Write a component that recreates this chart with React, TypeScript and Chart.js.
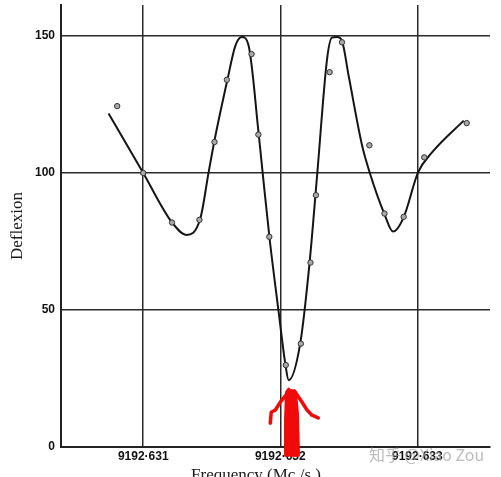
import React, { useEffect, useRef } from 'react';
import { Chart, registerables } from 'chart.js';

Chart.register(...registerables);

// Tick values
const xTickValues = [9192.631, 9192.632, 9192.633];
const yTickValues = [0, 50, 100, 150];

// Measured points (frequency in Mc./s., deflexion)
const pointFreq = [
  9192.63081, 9192.631, 9192.63121, 9192.63141, 9192.63152, 9192.63161, 9192.63179,
  9192.63184, 9192.63192, 9192.63204, 9192.63215, 9192.63222, 9192.63226, 9192.63236,
  9192.63245, 9192.63265, 9192.63276, 9192.6329, 9192.63305, 9192.63336,
];
const pointDefl = [
  124.4, 100, 81.9, 82.9, 111.3, 134, 143.4,
  114, 76.7, 29.9, 37.7, 67.3, 91.9, 136.8,
  147.7, 110.1, 85.2, 84, 105.7, 118.2,
];

// Fitted smooth curve
const curveFreq = [
  9192.630747, 9192.631, 9192.631209, 9192.631314, 9192.631416, 9192.631477, 9192.631518,
  9192.631615, 9192.631672, 9192.63172, 9192.631769, 9192.631842, 9192.631871, 9192.631922,
  9192.631988, 9192.632037, 9192.632061, 9192.632146, 9192.632214, 9192.63227,
  9192.632341, 9192.632377, 9192.632414, 9192.63245, 9192.632499, 9192.632596, 9192.632652,
  9192.632759, 9192.632823, 9192.6329, 9192.633005, 9192.633107, 9192.633338,
];
const curveDefl = [
  121.7, 100, 82.0, 77.4, 83.3, 100.2, 111.4,
  134.2, 146.4, 149.6, 146.4, 114.4, 100.2, 76.0,
  49.3, 30.2, 24.4, 38.0, 67.5, 100.0,
  141.5, 149.4, 149.6, 148.2, 135.4, 110.2, 100.2,
  85.1, 78.6, 83.8, 100.2, 107.5, 119.1,
];

// Hand-drawn red arrow strokes: [offset from 9192.632 Mc./s. in c./s., deflexion]
const arrowStrokes: number[][][] = [
  [[40, -3], [40, 10], [47, 20], [62, 21]],
  [[58, -3], [55, 10], [60, 20.5]],
  [[80, -3], [73, 10], [66, 20.5]],
  [[95, -3], [92, 12], [84, 20.5]],
  [[109, -3], [109, 12], [102, 19.5]],
  [[131, -3], [124, 12], [109, 20]],
  [[66, 20.5], [0, 16.4], [-36, 13.5], [-66, 12.7], [-73, 8.7]],
  [[102, 20.5], [158, 16.4], [195, 13.5], [231, 11.6], [277, 10.6]],
];

const xTitle = 'Frequency (Mc./s.)';
const yTitle = 'Deflexion';
const watermark = '知乎 @Xiao Zou';

export default function App() {
  const ref = useRef<HTMLCanvasElement>(null);

  useEffect(() => {
    document.body.style.margin = '0';
    const canvas = ref.current!;

    const overlay = {
      id: 'overlay',
      afterDraw(chart: any) {
        const ctx = chart.ctx;
        const xs = chart.scales.x;
        const ys = chart.scales.y;
        ctx.save();
        // x axis title
        ctx.fillStyle = '#1a1a1a';
        ctx.font = '17px "Liberation Serif", "DejaVu Serif", serif';
        ctx.textAlign = 'center';
        ctx.textBaseline = 'alphabetic';
        ctx.fillText(xTitle, 256, 480);
        // red arrow
        ctx.strokeStyle = '#f00a0a';
        ctx.lineWidth = 3.5;
        ctx.lineCap = 'round';
        ctx.lineJoin = 'round';
        for (const stroke of arrowStrokes) {
          ctx.beginPath();
          stroke.forEach(([dx, dy], i) => {
            const px = xs.getPixelForValue(9192.632 + dx * 1e-6);
            const py = ys.getPixelForValue(dy);
            if (i === 0) ctx.moveTo(px, py);
            else ctx.lineTo(px, py);
          });
          ctx.stroke();
        }
        // watermark
        ctx.fillStyle = 'rgba(160,160,160,0.7)';
        ctx.font = '16px "Noto Sans CJK SC", "Noto Sans", sans-serif';
        ctx.textAlign = 'left';
        ctx.textBaseline = 'middle';
        ctx.fillText(watermark, 369, 455);
        ctx.restore();
      },
    };

    const tickFont = { family: '"Liberation Sans", Arial, sans-serif', size: 12, weight: 'bold' as const };

    const chart = new Chart(canvas, {
      type: 'scatter',
      data: {
        datasets: [
          {
            type: 'line',
            data: curveFreq.map((x, i) => ({ x, y: curveDefl[i] })),
            borderColor: '#151515',
            borderWidth: 2,
            pointRadius: 0,
            cubicInterpolationMode: 'monotone',
            fill: false,
            order: 2,
          } as any,
          {
            type: 'scatter',
            data: pointFreq.map((x, i) => ({ x, y: pointDefl[i] })),
            pointRadius: 2.7,
            backgroundColor: '#a8a8a8',
            borderColor: '#333',
            borderWidth: 1,
            order: 1,
          },
        ],
      },
      options: {
        responsive: false,
        animation: false,
        layout: { padding: { top: 0, right: 11, left: 0, bottom: 0 } },
        plugins: { legend: { display: false }, tooltip: { enabled: false } },
        scales: {
          x: {
            type: 'linear',
            min: 9192.6304,
            max: 9192.63353,
            afterBuildTicks: (s: any) => {
              s.ticks = xTickValues.map((v) => ({ value: v }));
            },
            afterFit: (s: any) => {
              s.height = 30;
              s.paddingLeft = 0;
              s.paddingRight = 0;
            },
            grid: { color: '#2a2a2a', lineWidth: 1.5, drawTicks: false },
            border: { display: true, color: '#222', width: 2 },
            ticks: {
              padding: 2,
              font: tickFont,
              color: '#111',
              maxRotation: 0,
              autoSkip: false,
              callback: (v: any) => Number(v).toFixed(3).replace('.', '·'),
            },
          },
          y: {
            type: 'linear',
            min: 0,
            max: 161.3,
            afterBuildTicks: (s: any) => {
              s.ticks = yTickValues.map((v) => ({ value: v }));
            },
            afterFit: (s: any) => {
              s.width = 61;
              s.paddingTop = 0;
              s.paddingBottom = 0;
            },
            grid: { color: '#2a2a2a', lineWidth: 1.5, drawTicks: false },
            border: { display: true, color: '#222', width: 2 },
            ticks: {
              padding: 6,
              font: tickFont,
              color: '#111',
              autoSkip: false,
            },
            title: {
              display: true,
              text: yTitle,
              color: '#1a1a1a',
              font: { family: '"Liberation Serif", "DejaVu Serif", serif', size: 17 },
              padding: { top: 7, bottom: 0 },
            },
          },
        },
      },
      plugins: [overlay],
    });

    return () => chart.destroy();
  }, []);

  return <canvas ref={ref} width={501} height={477} style={{ display: 'block' }} />;
}
